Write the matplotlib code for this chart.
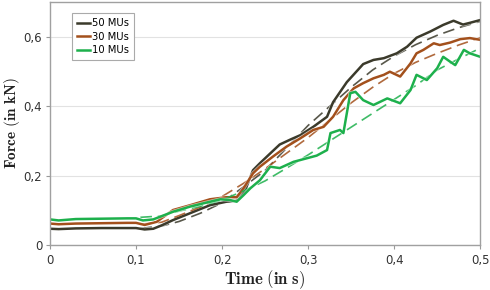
import matplotlib
matplotlib.use("Agg")
import matplotlib.pyplot as plt
import matplotlib.patheffects as pe
from matplotlib.ticker import FuncFormatter

# measured curves (time in s, force in kN)
t50 = [0, 0.01, 0.03, 0.06, 0.09, 0.1, 0.11, 0.12, 0.13, 0.143, 0.163, 0.186, 0.205, 0.217,
       0.227, 0.236, 0.244, 0.255, 0.267, 0.28, 0.291, 0.306, 0.322, 0.329, 0.345, 0.364,
       0.376, 0.388, 0.403, 0.415, 0.426, 0.442, 0.457, 0.469, 0.48, 0.488, 0.5]
f50 = [0.047, 0.046, 0.048, 0.049, 0.049, 0.049, 0.045, 0.047, 0.057, 0.072, 0.092, 0.115, 0.125, 0.128,
       0.159, 0.216, 0.236, 0.262, 0.29, 0.305, 0.317, 0.341, 0.37, 0.412, 0.47, 0.522,
       0.534, 0.539, 0.553, 0.572, 0.598, 0.616, 0.635, 0.647, 0.636, 0.641, 0.649]

t30 = [0, 0.01, 0.03, 0.06, 0.09, 0.1, 0.11, 0.124, 0.143, 0.163, 0.186, 0.205, 0.217, 0.225,
       0.236, 0.244, 0.259, 0.275, 0.291, 0.306, 0.318, 0.329, 0.341, 0.353, 0.364, 0.376,
       0.388, 0.395, 0.407, 0.419, 0.426, 0.434, 0.446, 0.453, 0.465, 0.477, 0.488, 0.5]
f30 = [0.062, 0.06, 0.062, 0.063, 0.064, 0.064, 0.058, 0.067, 0.101, 0.115, 0.132, 0.138, 0.138, 0.164,
       0.207, 0.226, 0.255, 0.284, 0.308, 0.332, 0.341, 0.37, 0.418, 0.452, 0.467, 0.481,
       0.491, 0.5, 0.486, 0.524, 0.553, 0.563, 0.582, 0.577, 0.584, 0.594, 0.597, 0.592]

t10 = [0, 0.01, 0.03, 0.06, 0.09, 0.1, 0.108, 0.12, 0.143, 0.163, 0.186, 0.198, 0.209, 0.217,
       0.225, 0.233, 0.244, 0.256, 0.267, 0.283, 0.298, 0.31, 0.322, 0.326, 0.337, 0.341,
       0.349, 0.355, 0.364, 0.376, 0.392, 0.407, 0.419, 0.426, 0.438, 0.45, 0.457, 0.465,
       0.471, 0.481, 0.488, 0.5]
f10 = [0.074, 0.071, 0.075, 0.076, 0.077, 0.077, 0.071, 0.074, 0.096, 0.111, 0.125, 0.132, 0.13, 0.125,
       0.144, 0.164, 0.187, 0.226, 0.222, 0.24, 0.25, 0.258, 0.274, 0.323, 0.332, 0.323,
       0.438, 0.442, 0.418, 0.404, 0.423, 0.409, 0.447, 0.491, 0.476, 0.51, 0.543, 0.529,
       0.519, 0.563, 0.553, 0.543]

# fitted (dashed) curves
tfit = [0.105, 0.13, 0.15, 0.175, 0.2, 0.225, 0.25, 0.275, 0.3, 0.325, 0.35, 0.375, 0.4, 0.425, 0.45, 0.475, 0.5]
fit50 = [0.048, 0.055, 0.068, 0.092, 0.122, 0.168, 0.215, 0.28, 0.345, 0.4, 0.455, 0.505, 0.545, 0.578, 0.605, 0.627, 0.645]
fit30 = [0.06, 0.066, 0.085, 0.11, 0.14, 0.178, 0.22, 0.265, 0.31, 0.36, 0.41, 0.455, 0.495, 0.527, 0.553, 0.577, 0.598]
fit10 = [0.08, 0.084, 0.098, 0.112, 0.13, 0.156, 0.185, 0.222, 0.26, 0.3, 0.34, 0.38, 0.42, 0.46, 0.505, 0.537, 0.568]

labels = ['50 MUs', '30 MUs', '10 MUs']
colors = ['#3b3a2b', '#a3501c', '#1db04c']

plt.rcParams['mathtext.fontset'] = 'cm'

fig, ax = plt.subplots(figsize=(4.9, 2.9), dpi=100)
fig.subplots_adjust(left=0.102, right=0.98, bottom=0.155, top=0.993)

ax.grid(axis='y', color='#e2e2e2', linewidth=0.8)
ax.set_axisbelow(True)

for tt, ff, fit, lab, c in zip([t50, t30, t10], [f50, f30, f10], [fit50, fit30, fit10], labels, colors):
    ax.plot(tfit, fit, color=c, lw=1.2, dashes=(7, 3.5), alpha=0.85)
    ax.plot(tt, ff, color=c, lw=1.8, label=lab,
            path_effects=[pe.Stroke(linewidth=2.8, foreground='white', alpha=0.6), pe.Normal()])

ax.set_xlim(0, 0.5)
ax.set_ylim(0, 0.701)
ax.set_xticks([0, 0.1, 0.2, 0.3, 0.4, 0.5])
ax.set_yticks([0, 0.2, 0.4, 0.6])
fmt = FuncFormatter(lambda v, p: '0' if v == 0 else ('%g' % v).replace('.', ','))
ax.xaxis.set_major_formatter(fmt)
ax.yaxis.set_major_formatter(fmt)
ax.tick_params(labelsize=8.5, colors='#999999', labelcolor='#333333', length=3, width=0.8)
ax.tick_params(axis='y', pad=2.5)

for s in ax.spines.values():
    s.set_color('#a0a0a0')
    s.set_linewidth(1.0)

ax.set_xlabel(r'$\mathbf{Time\ (in\ s)}$', fontsize=12, color='#222222', labelpad=1)
ax.set_ylabel(r'$\mathbf{Force\ (in\ kN)}$', fontsize=11, color='#222222', labelpad=1)

leg = ax.legend(loc='upper left', bbox_to_anchor=(0.04, 0.975), fontsize=7.2, handlelength=1.3,
                handletextpad=0.2, borderpad=0.5, labelspacing=0.35, fancybox=False, framealpha=1)
leg.get_frame().set_edgecolor('#aaaaaa')
leg.get_frame().set_linewidth(0.8)
for line in leg.get_lines():
    line.set_path_effects([])

fig.savefig('out.png', dpi=100)
